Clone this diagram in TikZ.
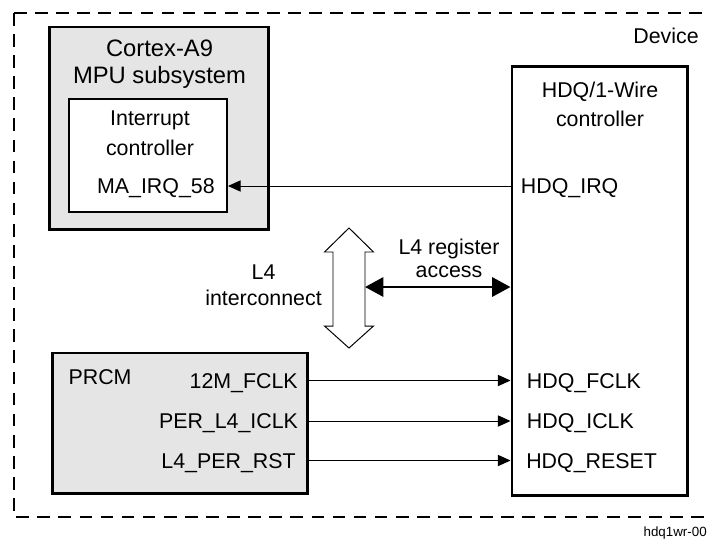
\documentclass[tikz,border=0pt]{standalone}
\usepackage{fontspec}
\setmainfont{Liberation Sans}
\usetikzlibrary{arrows.meta,positioning}
\definecolor{blockgray}{RGB}{229,229,229}

\begin{document}
\begin{tikzpicture}[x=0.025cm, y=-0.025cm,
  lbl/.style={font=\fontsize{15.2}{20.8}\selectfont, inner sep=0pt, align=center},
  port/.style={lbl, text height=11.3pt, text depth=0pt},
  blk/.style={draw=black, line width=2.1pt, inner sep=0pt},
  sig/.style={-{Triangle[length=9pt,width=8pt]}, line width=0.7pt},
  bus/.style={{Triangle[length=13pt,width=13.5pt]}-{Triangle[length=13pt,width=13.5pt]}, line width=2.1pt},
  device/.style={line width=1.4pt, dash pattern=on 9pt off 6pt}]
\useasboundingbox (0,0) rectangle (708,547);
\draw[device] (14,13) -- (720,13);
\draw[device] (14,13) -- (14,517) -- (720,517);
\node[lbl, anchor=base east] (devlbl) at (699,43.3) {Device};
\node[blk, fill=blockgray, minimum width=5.45cm, minimum height=5.05cm] (mpu) at (159,128) {};
\node[lbl, anchor=base, font=\fontsize{16.9}{18.9}\selectfont] (mputitle) at (159.5,83.3) {Cortex-A9\\MPU subsystem};
\node[blk, line width=1.4pt, fill=white, minimum width=3.95cm, minimum height=2.825cm] (intc) at (148,155.5) {};
\node[lbl, anchor=base] (intctitle) at (150,155) {Interrupt\\controller};
\node[port, anchor=east] (maq) at (215,186) {MA\_IRQ\_58};
\node[blk, fill=white, minimum width=4.375cm, minimum height=10.7cm] (hdq) at (599.5,281) {};
\node[lbl, anchor=base, font=\fontsize{15.2}{20.3}\selectfont] (hdqtitle) at (600,126) {HDQ/1-Wire\\controller};
\node[port, anchor=west] (hdqirq) at (520.7,186) {HDQ\_IRQ};
\node[port, anchor=west] (hdqfclk) at (526.7,380.5) {HDQ\_FCLK};
\node[port, anchor=west] (hdqiclk) at (526.7,421) {HDQ\_ICLK};
\node[port, anchor=west] (hdqrst) at (526,460.5) {HDQ\_RESET};
\node[blk, fill=blockgray, minimum width=6.35cm, minimum height=3.5cm] (prcm) at (180,423) {};
\node[lbl, anchor=base west] (prcmtitle) at (68.3,384) {PRCM};
\node[port, anchor=east] (fclk) at (298,380.5) {12M\_FCLK};
\node[port, anchor=east] (iclk) at (298.3,421) {PER\_L4\_ICLK};
\node[port, anchor=east] (rst) at (296,460.5) {L4\_PER\_RST};
\draw[line width=0.7pt] (349,228) -- (373.5,252) -- (365,252) -- (365,326) -- (373.5,326) -- (349,348)
  -- (324.5,326) -- (333,326) -- (333,252) -- (324.5,252) -- cycle;
\coordinate (l4bus) at (365,287);
\node[lbl, anchor=base, font=\fontsize{15.2}{18.2}\selectfont] (l4lbl) at (263.5,305) {L4\\interconnect};
\node[lbl, anchor=base, font=\fontsize{15.2}{16.5}\selectfont] (reglbl) at (449,277.3) {L4 register\\access};
\node[lbl, anchor=base east, font=\fontsize{9.5}{11}\selectfont] (figid) at (707,536.7) {hdq1wr-00};
\draw[sig] (hdq.west |- maq) -- (intc.east |- maq);
\draw[bus] (l4bus) -- (l4bus -| hdq.west);
\draw[sig] (prcm.east |- fclk) -- (hdq.west |- fclk);
\draw[sig] (prcm.east |- iclk) -- (hdq.west |- iclk);
\draw[sig] (prcm.east |- rst) -- (hdq.west |- rst);
\end{tikzpicture}
\end{document}
